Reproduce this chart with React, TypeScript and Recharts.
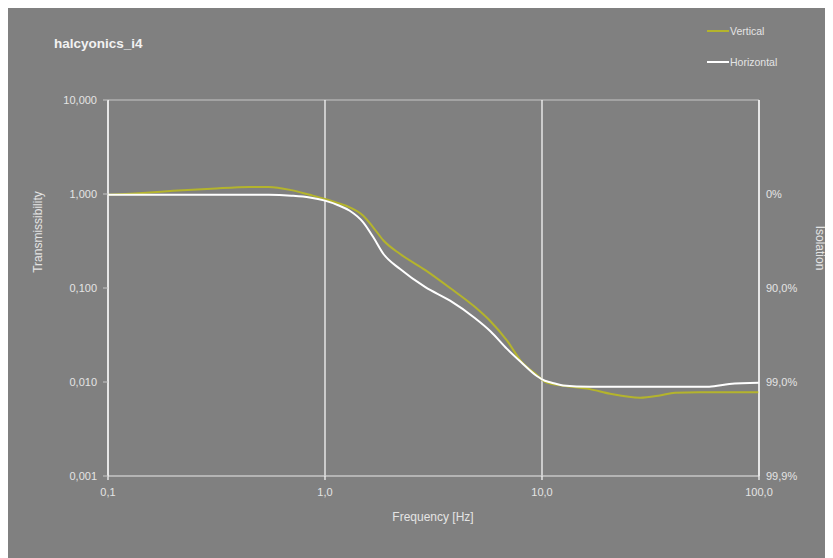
import React from "react";
import { LineChart, Line, XAxis, YAxis, CartesianGrid, Customized } from "recharts";

// Frequency points in Hz shared by both measurement series
const frequencies = [
  0.1, 0.15, 0.2, 0.3, 0.45, 0.55, 0.7, 0.85, 1.0, 1.15, 1.3, 1.5, 1.67, 1.86,
  2.22, 2.9, 3.77, 4.9, 5.8, 6.9, 8.0, 9.5, 10.3, 11, 12.5, 16.6, 20.6, 28.3,
  34.9, 41, 53, 59, 73, 100,
];

// Transmissibility, vertical direction
const vertical = [
  0.98, 1.03, 1.08, 1.14, 1.19, 1.19, 1.1, 0.98, 0.885, 0.8, 0.72, 0.587, 0.44,
  0.32, 0.23, 0.155, 0.1, 0.063, 0.044, 0.0275, 0.0167, 0.0118, 0.0101, 0.0096,
  0.0091, 0.0084, 0.0075, 0.0068, 0.0072, 0.0077, 0.0078, 0.0078, 0.0078, 0.0078,
];

// Transmissibility, horizontal direction
const horizontal = [
  0.98, 0.98, 0.98, 0.98, 0.98, 0.98, 0.96, 0.92, 0.85, 0.76, 0.664, 0.5, 0.346,
  0.23, 0.159, 0.102, 0.0733, 0.048, 0.0345, 0.0225, 0.0163, 0.0115, 0.0103,
  0.0099, 0.0092, 0.0089, 0.0089, 0.0089, 0.0089, 0.0089, 0.0089, 0.0089, 0.0095,
  0.0098,
];

const freqTicks = [0.1, 1, 10, 100];
const transTicks = [0.001, 0.01, 0.1, 1, 10];
const isolationTicks = [0.001, 0.01, 0.1, 1];

const title = "halcyonics_i4";
const seriesNames = { vertical: "Vertical", horizontal: "Horizontal" };

const rows = frequencies.map((f, i) => ({
  f,
  vertical: vertical[i],
  horizontal: horizontal[i],
}));

const BG = "#808080";
const TEXT = "#e4e4e4";
const YELLOW = "#b4b42c";
const FONT = "'Liberation Sans', Arial, sans-serif";
const NARROW = "'Liberation Sans Narrow', 'Liberation Sans', Arial, sans-serif";

const fmtFreq = (v: number) => v.toFixed(1).replace(".", ",");
const fmtTrans = (v: number) => v.toFixed(3).replace(".", ",");
const fmtIsolation = (v: number) => {
  const iso = (1 - v) * 100;
  if (Math.abs(iso) < 1e-9) return "0%";
  return iso.toFixed(1).replace(".", ",") + "%";
};

const Decorations = () => (
  <g>
    <text x={46} y={35} fill="#f2f2f2" fontFamily={FONT} fontWeight="bold" fontSize={13.5} dominantBaseline="central">
      {title}
    </text>
    <line x1={699} x2={721} y1={23} y2={23} stroke={YELLOW} strokeWidth={2} />
    <text x={722} y={23} fill={TEXT} fontFamily={NARROW} fontSize={10.5} dominantBaseline="central">
      {seriesNames.vertical}
    </text>
    <line x1={699} x2={721} y1={54} y2={54} stroke="#ffffff" strokeWidth={2} />
    <text x={722} y={54} fill={TEXT} fontFamily={NARROW} fontSize={10.5} dominantBaseline="central">
      {seriesNames.horizontal}
    </text>
    <text
      x={30}
      y={224}
      fill={TEXT}
      fontFamily={FONT}
      fontSize={12}
      textAnchor="middle"
      dominantBaseline="central"
      transform="rotate(-90 30 224)"
    >
      Transmissibility
    </text>
    <text
      x={812}
      y={240}
      fill={TEXT}
      fontFamily={FONT}
      fontSize={12}
      textAnchor="middle"
      dominantBaseline="central"
      transform="rotate(90 812 240)"
    >
      Isolation
    </text>
    <text x={425} y={509} fill={TEXT} fontFamily={FONT} fontSize={12} textAnchor="middle" dominantBaseline="central">
      Frequency [Hz]
    </text>
  </g>
);

export default function App() {
  const tickStyle = { fill: TEXT, fontSize: 11, fontFamily: FONT };
  return (
    <div style={{ width: 825, height: 550, background: BG }}>
      <LineChart
        width={825}
        height={550}
        data={rows}
        margin={{ top: 92, right: 0, bottom: 0, left: 0 }}
      >
        <CartesianGrid vertical={false} stroke="#c6c6c6" strokeWidth={1} />
        <CartesianGrid horizontal={false} stroke="#f4f4f4" strokeWidth={1.3} />
        <XAxis
          dataKey="f"
          type="number"
          scale="log"
          domain={[0.1, 100]}
          ticks={freqTicks}
          allowDataOverflow
          tickFormatter={fmtFreq}
          height={82}
          tickSize={4}
          tickMargin={8}
          axisLine={{ stroke: "#c6c6c6", strokeWidth: 1 }}
          tickLine={{ stroke: "#f4f4f4", strokeWidth: 1.3 }}
          tick={tickStyle}
        />
        <YAxis
          yAxisId="left"
          type="number"
          scale="log"
          domain={[0.001, 10]}
          ticks={transTicks}
          allowDataOverflow
          tickFormatter={fmtTrans}
          width={100}
          tickSize={5}
          tickMargin={6}
          axisLine={{ stroke: "#f4f4f4", strokeWidth: 1.3 }}
          tickLine={{ stroke: "#c6c6c6", strokeWidth: 1 }}
          tick={tickStyle}
        />
        <YAxis
          yAxisId="right"
          orientation="right"
          type="number"
          scale="log"
          domain={[0.001, 10]}
          ticks={isolationTicks}
          allowDataOverflow
          tickFormatter={fmtIsolation}
          width={74}
          tickSize={0}
          tickMargin={7}
          axisLine={{ stroke: "#f4f4f4", strokeWidth: 1.3 }}
          tickLine={false}
          tick={tickStyle}
        />
        <Line
          yAxisId="left"
          dataKey="vertical"
          type="monotone"
          stroke={YELLOW}
          strokeWidth={2}
          dot={false}
          activeDot={false}
          isAnimationActive={false}
        />
        <Line
          yAxisId="left"
          dataKey="horizontal"
          type="monotone"
          stroke="#ffffff"
          strokeWidth={2}
          dot={false}
          activeDot={false}
          isAnimationActive={false}
        />
        <Customized component={Decorations} />
      </LineChart>
    </div>
  );
}
